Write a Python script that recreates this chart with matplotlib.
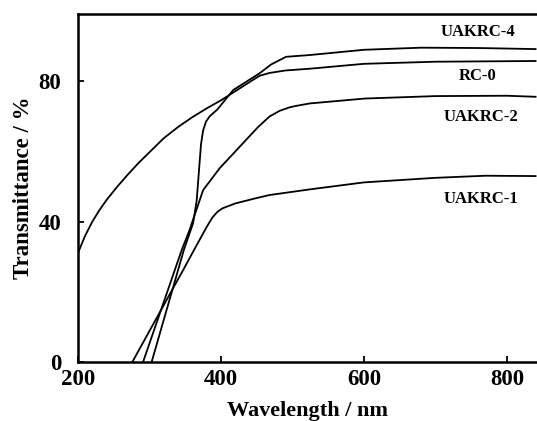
import matplotlib
matplotlib.use("Agg")
import matplotlib.pyplot as plt

# RC-0
rc0_x = [200, 210, 220, 230, 240, 255, 270, 285, 300, 320, 340, 360, 380, 400, 417, 440, 454, 468, 490, 524, 600, 700, 840]
rc0_y = [31.1, 36.0, 40.0, 43.3, 46.2, 50.0, 53.5, 56.8, 59.8, 63.8, 67.0, 69.8, 72.3, 74.6, 76.8, 79.8, 81.6, 82.4, 83.1, 83.6, 85.0, 85.6, 85.8]

# UAKRC-1
u1_x = [276, 347, 370, 380, 388, 395, 402, 420, 449, 468, 524, 600, 700, 770, 840]
u1_y = [0, 26.2, 34.8, 38.5, 41.2, 42.8, 43.8, 45.2, 46.7, 47.6, 49.2, 51.2, 52.5, 53.1, 53.0]

# UAKRC-2
u2_x = [291, 345, 356, 375, 398, 435, 452, 468, 482, 496, 505, 524, 601, 700, 800, 840]
u2_y = [0, 31.9, 37.6, 49.0, 55.2, 63.3, 67.0, 70.0, 71.6, 72.6, 73.0, 73.7, 75.1, 75.8, 75.9, 75.6]

# UAKRC-4
u4_x = [303, 348, 361, 366, 369, 372, 375, 379, 384, 395, 417, 440, 454, 470, 491, 524, 600, 680, 760, 840]
u4_y = [0, 31.9, 39.6, 46.0, 54.0, 62.0, 66.0, 68.5, 70.0, 72.0, 77.5, 80.5, 82.3, 84.8, 87.0, 87.5, 89.0, 89.6, 89.5, 89.2]

labels = ["UAKRC-4", "RC-0", "UAKRC-2", "UAKRC-1"]
label_x = [760, 759, 763, 763]
label_y = [94.1, 81.5, 69.8, 46.4]

xticks = [200, 400, 600, 800]
yticks = [0, 40, 80]

plt.rcParams['font.family'] = ['Liberation Serif', 'DejaVu Serif']
plt.rcParams['font.weight'] = 'bold'

fig = plt.figure(figsize=(5.37, 4.21), dpi=100)
ax = fig.add_axes([78/537, 59/421, (537-78)/537, 348/421])

for xs, ys in [(rc0_x, rc0_y), (u1_x, u1_y), (u2_x, u2_y), (u4_x, u4_y)]:
    ax.plot(xs, ys, color='black', lw=1.3, solid_joinstyle='round')

for t, lx, ly in zip(labels, label_x, label_y):
    ax.text(lx, ly, t, ha='center', va='center', fontsize=12, fontweight='bold')

ax.set_xlim(200, 842)
ax.set_ylim(0, 99.2)
ax.set_xticks(xticks)
ax.set_yticks(yticks)
ax.tick_params(direction='in', length=4, width=1.3, labelsize=16.5)
ax.tick_params(axis='x', pad=5)
ax.tick_params(axis='y', pad=12)
for lab in ax.get_xticklabels() + ax.get_yticklabels():
    lab.set_fontweight('bold')
ax.spines['right'].set_visible(False)
for s in ['left', 'top', 'bottom']:
    ax.spines[s].set_linewidth(1.8)

ax.set_xlabel('Wavelength / nm', fontsize=16, fontweight='bold', labelpad=8)
ax.set_ylabel('Transmittance / %', fontsize=16.5, fontweight='bold', labelpad=3)

fig.savefig('out.png', dpi=100)
